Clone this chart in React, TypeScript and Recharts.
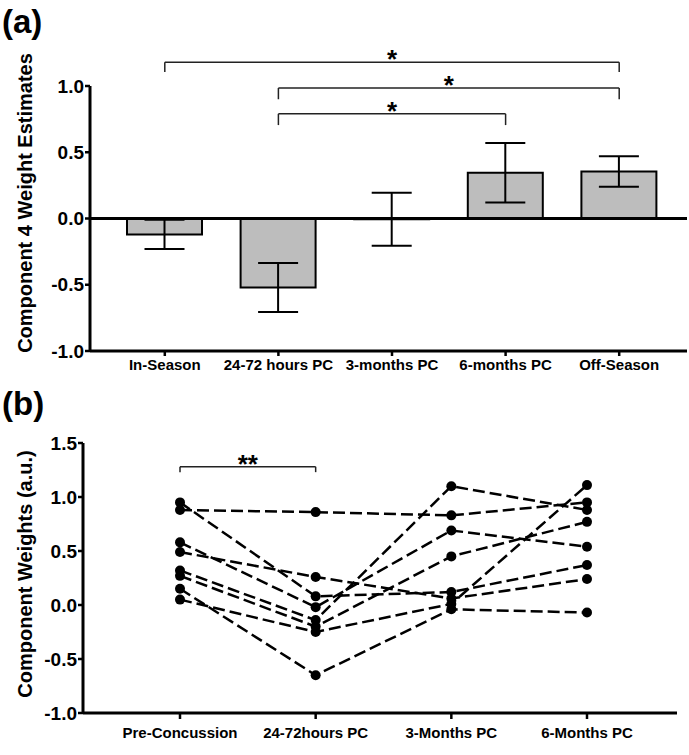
import React from 'react'
import {
  ComposedChart,
  LineChart,
  Bar,
  Line,
  XAxis,
  YAxis,
  ErrorBar,
  ReferenceLine,
} from 'recharts'

// panel (a): component 4 weight estimates, mean +/- error
const CATS_A = ['In-Season', '24-72 hours PC', '3-months PC', '6-months PC', 'Off-Season']
const MEANS_A = [-0.12, -0.52, -0.005, 0.345, 0.355]
const ERR_A = [0.11, 0.185, 0.2, 0.225, 0.115]
const TICKS_A = [-1, -0.5, 0, 0.5, 1]

// significance brackets for (a)
const BRACKET_FROM_A = ['In-Season', '24-72 hours PC', '24-72 hours PC']
const BRACKET_TO_A = ['Off-Season', 'Off-Season', '6-months PC']
const BRACKET_LEVEL_A = [1.18, 0.985, 0.79]
const BRACKET_DROP_A = [0.075, 0.085, 0.085]
const BRACKET_STARS_A = ['*', '*', '*']

// panel (b): individual component weights per subject
const TIMES_B = ['Pre-Concussion', '24-72hours PC', '3-Months PC', '6-Months PC']
const S1 = [0.88, 0.86, 0.83, 0.95]
const S2 = [0.95, 0.08, 0.12, 0.37]
const S3 = [0.58, -0.02, 0.69, 0.54]
const S4 = [0.49, 0.26, 0.06, 0.24]
const S5 = [0.32, -0.14, 1.1, 0.88]
const S6 = [0.27, -0.2, 0.45, 0.77]
const S7 = [0.15, -0.65, -0.04, -0.07]
const S8 = [0.05, -0.25, 0.01, 1.11]
const SUBJECTS = [S1, S2, S3, S4, S5, S6, S7, S8]
const TICKS_B = [-1, -0.5, 0, 0.5, 1, 1.5]

const dataA = CATS_A.map((name, i) => ({ name, mean: MEANS_A[i], err: ERR_A[i] }))
const dataB = TIMES_B.map((name, i) => {
  const row: Record<string, string | number> = { name }
  SUBJECTS.forEach((s, k) => {
    row[`s${k + 1}`] = s[i]
  })
  return row
})

const FONT = '"Liberation Sans", Arial, Helvetica, sans-serif'
const AXIS_LINE = { stroke: '#000', strokeWidth: 3 }
const TICK_LINE = { stroke: '#000', strokeWidth: 2.5 }
const Y_TICK = { fontSize: 19, fontWeight: 'bold', fill: '#000' }
const X_TICK = { fontSize: 15, fontWeight: 'bold', fill: '#000' }
const STAR = { position: 'top' as const, offset: -6, fontSize: 26, fontWeight: 'bold', fill: '#000' }
const fmt = (v: number) => v.toFixed(1)

export default function App() {
  return (
    <div style={{ position: 'absolute', left: 0, top: 0, width: 689, height: 755, fontFamily: FONT, background: '#fff' }}>
      <ComposedChart width={689} height={380} data={dataA} margin={{ top: 86, right: 2, bottom: 4, left: 30 }}>
        <XAxis
          dataKey="name"
          type="category"
          padding={{ left: 18, right: 11 }}
          axisLine={AXIS_LINE}
          tickLine={TICK_LINE}
          tickSize={5}
          tickMargin={3}
          tick={X_TICK}
          interval={0}
          height={25}
        />
        <YAxis
          type="number"
          domain={[-1, 1]}
          ticks={TICKS_A}
          tickFormatter={fmt}
          axisLine={AXIS_LINE}
          tickLine={TICK_LINE}
          tickSize={5}
          tickMargin={1}
          tick={Y_TICK}
          width={60}
          interval={0}
        />
        <Bar dataKey="mean" fill="#bdbdbd" stroke="#000" strokeWidth={2} barSize={75} isAnimationActive={false}>
          <ErrorBar dataKey="err" width={20} stroke="#000" strokeWidth={2} direction="y" />
        </Bar>
        <ReferenceLine y={0} stroke="#000" strokeWidth={3} />
        {BRACKET_LEVEL_A.map((lv, i) => (
          <ReferenceLine
            key={`h${i}`}
            segment={[{ x: BRACKET_FROM_A[i], y: lv }, { x: BRACKET_TO_A[i], y: lv }]}
            stroke="#222"
            strokeWidth={1.5}
            ifOverflow="visible"
            label={{ value: BRACKET_STARS_A[i], ...STAR }}
          />
        ))}
        {BRACKET_LEVEL_A.map((lv, i) => (
          <ReferenceLine
            key={`l${i}`}
            segment={[{ x: BRACKET_FROM_A[i], y: lv }, { x: BRACKET_FROM_A[i], y: lv - BRACKET_DROP_A[i] }]}
            stroke="#222"
            strokeWidth={1.5}
            ifOverflow="visible"
          />
        ))}
        {BRACKET_LEVEL_A.map((lv, i) => (
          <ReferenceLine
            key={`r${i}`}
            segment={[{ x: BRACKET_TO_A[i], y: lv }, { x: BRACKET_TO_A[i], y: lv - BRACKET_DROP_A[i] }]}
            stroke="#222"
            strokeWidth={1.5}
            ifOverflow="visible"
          />
        ))}
      </ComposedChart>

      <LineChart width={689} height={375} data={dataB} margin={{ top: 63, right: 12, bottom: 12, left: 23 }}>
        <XAxis
          dataKey="name"
          type="category"
          padding={{ left: 97, right: 90 }}
          axisLine={AXIS_LINE}
          tickLine={TICK_LINE}
          tickSize={6}
          tickMargin={8}
          tick={X_TICK}
          interval={0}
          height={30}
        />
        <YAxis
          type="number"
          domain={[-1, 1.5]}
          ticks={TICKS_B}
          tickFormatter={fmt}
          axisLine={AXIS_LINE}
          tickLine={TICK_LINE}
          tickSize={5}
          tickMargin={1}
          tick={Y_TICK}
          width={60}
          interval={0}
        />
        <ReferenceLine
          segment={[{ x: TIMES_B[0], y: 1.28 }, { x: TIMES_B[1], y: 1.28 }]}
          stroke="#222"
          strokeWidth={1.5}
          ifOverflow="visible"
          label={{ value: '**', ...STAR }}
        />
        <ReferenceLine segment={[{ x: TIMES_B[0], y: 1.28 }, { x: TIMES_B[0], y: 1.23 }]} stroke="#222" strokeWidth={1.5} ifOverflow="visible" />
        <ReferenceLine segment={[{ x: TIMES_B[1], y: 1.28 }, { x: TIMES_B[1], y: 1.23 }]} stroke="#222" strokeWidth={1.5} ifOverflow="visible" />
        {SUBJECTS.map((_, k) => (
          <Line
            key={k}
            type="linear"
            dataKey={`s${k + 1}`}
            stroke="#000"
            strokeWidth={2.5}
            strokeDasharray="12 5"
            dot={{ r: 5, fill: '#000', stroke: '#000', strokeWidth: 0, strokeDasharray: '' }}
            activeDot={false}
            isAnimationActive={false}
          />
        ))}
      </LineChart>

      <svg width={689} height={755} style={{ position: 'absolute', left: 0, top: 0, pointerEvents: 'none' }}>
        <text x={2} y={33} fontSize={33} fontWeight="bold" fill="#000">(a)</text>
        <text x={2} y={415} fontSize={33} fontWeight="bold" fill="#000">(b)</text>
        <text transform="translate(25,203) rotate(-90)" textAnchor="middle" dominantBaseline="central" fontSize={20} fontWeight="bold" fill="#000">
          Component 4 Weight Estimates
        </text>
        <text transform="translate(25,574) rotate(-90)" textAnchor="middle" dominantBaseline="central" fontSize={20} fontWeight="bold" fill="#000">
          Component Weights (a.u.)
        </text>
      </svg>
    </div>
  )
}
